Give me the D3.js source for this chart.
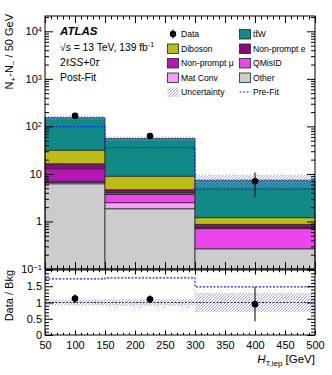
<!DOCTYPE html>
<html>
<head>
<meta charset="utf-8">
<script src="https://cdn.jsdelivr.net/npm/d3@7"></script>
<style>
  body { margin: 0; background: #fff; }
  svg { font-family: "Liberation Sans", Arial, sans-serif; }
</style>
</head>
<body>
<div id="chart"></div>
<script>
// bins in HT,lep [GeV]
const binEdges = [50, 150, 300, 500];

// stacked backgrounds (bottom -> top)
const other    = [6.2, 1.85, 0.266];
const matConv  = [0.45, 0.63, 0];
const qmisid   = [0.40, 1.22, 0.44];
const npMu     = [5.8, 0.38, 0.03];
const npE      = [3.5, 0.57, 0.135];
const diboson  = [15.3, 4.34, 0.33];
const ttW      = [120.7, 46.9, 6.2];

const dataVals = [168, 62.5, 7.0];
const dataErr  = [20, 7.5, 3.7];
const preFit   = [98.6, 35.6, 4.72];
const uncFrac  = [0.09, 0.1, 0.3];

// ratio panel
const ratioData   = [1.12, 1.10, 0.95];
const ratioErr    = [0.13, 0.12, 0.53];
const ratioPreFit = [1.73, 1.76, 1.48];
const ratioUnc    = [0.09, 0.1, 0.29];

const xTicks = [50, 100, 150, 200, 250, 300, 350, 400, 450, 500];
const yTicks = [0.1, 1, 10, 100, 1000, 10000];
const ratioTicks = [0, 0.5, 1, 1.5, 2];

const keys = ["other", "matConv", "qmisid", "npMu", "npE", "diboson", "ttW"];
const colors = {
  other: "#cccccc", matConv: "#fc9afc", qmisid: "#ee44ee", npMu: "#b716b7",
  npE: "#880c7e", diboson: "#bcbc16", ttW: "#0f8a87"
};

const rows = binEdges.slice(0, -1).map((lo, i) => ({
  lo: lo, hi: binEdges[i + 1],
  other: other[i], matConv: matConv[i], qmisid: qmisid[i], npMu: npMu[i],
  npE: npE[i], diboson: diboson[i], ttW: ttW[i]
}));
const stacked = d3.stack().keys(keys)(rows);
const totals = rows.map(r => keys.reduce((s, k) => s + r[k], 0));

const width = 332, height = 375;
const left = 45, right = 315;
const topY = 16, midY = 269, rTop = 270, rBot = 335;

const svg = d3.select("#chart").append("svg")
  .attr("width", width).attr("height", height);

const defs = svg.append("defs");
const pat = defs.append("pattern")
  .attr("id", "hatch").attr("patternUnits", "userSpaceOnUse")
  .attr("width", 3).attr("height", 3);
pat.append("path")
  .attr("d", "M-1,1 L1,-1 M0,3 L3,0 M2,4 L4,2")
  .attr("fill", "none")
  .attr("stroke", "#8a8aff").attr("stroke-width", 0.8);

const x = d3.scaleLinear().domain([50, 500]).range([left, right]);
const y = d3.scaleLog().domain([0.1, 21000]).range([midY, topY]);
const yr = d3.scaleLinear().domain([0, 2]).range([rBot, rTop]);

// ---- upper panel: stack
stacked.forEach(layer => {
  svg.append("g").selectAll("rect")
    .data(layer)
    .enter().append("rect")
    .attr("x", d => x(d.data.lo))
    .attr("width", d => x(d.data.hi) - x(d.data.lo))
    .attr("y", d => y(d[1]))
    .attr("height", d => y(Math.max(d[0], 0.1)) - y(d[1]))
    .attr("fill", colors[layer.key])
    .attr("stroke", "#2a2a2a")
    .attr("stroke-width", 0.8);
});

// uncertainty band
svg.append("g").selectAll("rect")
  .data(rows)
  .enter().append("rect")
  .attr("x", d => x(d.lo))
  .attr("width", d => x(d.hi) - x(d.lo))
  .attr("y", (d, i) => y(totals[i] * (1 + uncFrac[i])))
  .attr("height", (d, i) => y(totals[i] * (1 - uncFrac[i])) - y(totals[i] * (1 + uncFrac[i])))
  .attr("fill", "url(#hatch)");

// pre-fit step line
const stepPts = (vals) => rows.map((d, i) => [d.lo, vals[i]]).concat([[500, vals[vals.length - 1]]]);
svg.append("path")
  .datum(stepPts(preFit))
  .attr("d", d3.line().x(d => x(d[0])).y(d => y(d[1])).curve(d3.curveStepAfter))
  .attr("fill", "none").attr("stroke", "#2020ee").attr("stroke-width", 1.2)
  .attr("stroke-dasharray", "2,1.5");

// data
const centers = rows.map(d => (d.lo + d.hi) / 2);
svg.append("g").selectAll("line")
  .data(dataVals).enter().append("line")
  .attr("x1", (d, i) => x(centers[i])).attr("x2", (d, i) => x(centers[i]))
  .attr("y1", (d, i) => y(d - dataErr[i])).attr("y2", (d, i) => y(d + dataErr[i]))
  .attr("stroke", "#000").attr("stroke-width", 1);
svg.append("g").selectAll("circle")
  .data(dataVals).enter().append("circle")
  .attr("cx", (d, i) => x(centers[i])).attr("cy", d => y(d))
  .attr("r", 3.3).attr("fill", "#000");

// ---- ratio panel
svg.append("g").selectAll("rect")
  .data(rows)
  .enter().append("rect")
  .attr("x", d => x(d.lo))
  .attr("width", d => x(d.hi) - x(d.lo))
  .attr("y", (d, i) => yr(1 + ratioUnc[i]))
  .attr("height", (d, i) => yr(1 - ratioUnc[i]) - yr(1 + ratioUnc[i]))
  .attr("fill", "url(#hatch)");

svg.append("line")
  .attr("x1", x(50)).attr("x2", x(500))
  .attr("y1", yr(1)).attr("y2", yr(1))
  .attr("stroke", "#333").attr("stroke-width", 1).attr("stroke-dasharray", "2,1.5");

svg.append("path")
  .datum(stepPts(ratioPreFit))
  .attr("d", d3.line().x(d => x(d[0])).y(d => yr(d[1])).curve(d3.curveStepAfter))
  .attr("fill", "none").attr("stroke", "#2020ee").attr("stroke-width", 1.2)
  .attr("stroke-dasharray", "2,1.5");

svg.append("g").selectAll("line")
  .data(ratioData).enter().append("line")
  .attr("x1", (d, i) => x(centers[i])).attr("x2", (d, i) => x(centers[i]))
  .attr("y1", (d, i) => yr(d - ratioErr[i])).attr("y2", (d, i) => yr(d + ratioErr[i]))
  .attr("stroke", "#000").attr("stroke-width", 1);
svg.append("g").selectAll("circle")
  .data(ratioData).enter().append("circle")
  .attr("cx", (d, i) => x(centers[i])).attr("cy", d => yr(d))
  .attr("r", 3.3).attr("fill", "#000");

// ---- frames
svg.append("rect").attr("x", left).attr("y", topY)
  .attr("width", right - left).attr("height", midY - topY)
  .attr("fill", "none").attr("stroke", "#000").attr("stroke-width", 1);
svg.append("rect").attr("x", left).attr("y", rTop)
  .attr("width", right - left).attr("height", rBot - rTop)
  .attr("fill", "none").attr("stroke", "#000").attr("stroke-width", 1);

// ---- axes
const xMinor = d3.range(50, 501, 10).filter(v => v % 50 !== 0);
const logMinor = [];
[-1, 0, 1, 2, 3, 4].forEach(p => d3.range(2, 10).forEach(k => {
  const v = k * Math.pow(10, p);
  if (v <= 21000) logMinor.push(v);
}));
const rMinor = d3.range(0, 2.001, 0.1).filter(v => Math.abs(v * 2 - Math.round(v * 2)) > 1e-6);

function ticks(axis, tr) {
  const g = svg.append("g").attr("transform", tr).call(axis);
  g.select(".domain").remove();
  g.selectAll(".tick line").attr("stroke", "#000");
  return g;
}

// upper panel x ticks
ticks(d3.axisBottom(x).tickValues(xTicks).tickSize(-7).tickFormat(""), `translate(0,${midY})`);
ticks(d3.axisBottom(x).tickValues(xMinor).tickSize(-3.5).tickFormat(""), `translate(0,${midY})`);
ticks(d3.axisTop(x).tickValues(xTicks).tickSize(-7).tickFormat(""), `translate(0,${topY})`);
ticks(d3.axisTop(x).tickValues(xMinor).tickSize(-3.5).tickFormat(""), `translate(0,${topY})`);

// upper panel y
const yl = ticks(d3.axisLeft(y).tickValues(yTicks).tickSize(-8).tickPadding(3), `translate(${left},0)`);
ticks(d3.axisLeft(y).tickValues(logMinor).tickSize(-4).tickFormat(""), `translate(${left},0)`);
ticks(d3.axisRight(y).tickValues(yTicks).tickSize(-8).tickFormat(""), `translate(${right},0)`);
ticks(d3.axisRight(y).tickValues(logMinor).tickSize(-4).tickFormat(""), `translate(${right},0)`);
yl.selectAll(".tick text").attr("font-size", 11).attr("fill", "#000")
  .attr("font-family", "Liberation Sans, Arial, sans-serif")
  .each(function (d) {
    const t = d3.select(this).text("");
    const p = Math.round(Math.log10(d));
    if (p === 0 || p === 1) { t.text(String(d)); return; }
    t.append("tspan").text("10");
    t.append("tspan").attr("dy", "-0.45em").attr("font-size", 7.5).text(p < 0 ? "\u22121" : p);
  });

// ratio panel
const xb = ticks(d3.axisBottom(x).tickValues(xTicks).tickSize(-4.5).tickPadding(6), `translate(0,${rBot})`);
ticks(d3.axisBottom(x).tickValues(xMinor).tickSize(-2.2).tickFormat(""), `translate(0,${rBot})`);
ticks(d3.axisTop(x).tickValues(xTicks).tickSize(-4.5).tickFormat(""), `translate(0,${rTop})`);
ticks(d3.axisTop(x).tickValues(xMinor).tickSize(-2.2).tickFormat(""), `translate(0,${rTop})`);
xb.selectAll(".tick text").attr("font-size", 11).attr("fill", "#000")
  .attr("font-family", "Liberation Sans, Arial, sans-serif");

const yrl = ticks(d3.axisLeft(yr).tickValues(ratioTicks).tickSize(-8).tickPadding(3)
  .tickFormat(d => d === 2 ? "" : String(d)), `translate(${left},0)`);
ticks(d3.axisLeft(yr).tickValues(rMinor).tickSize(-4).tickFormat(""), `translate(${left},0)`);
ticks(d3.axisRight(yr).tickValues(ratioTicks).tickSize(-8).tickFormat(""), `translate(${right},0)`);
ticks(d3.axisRight(yr).tickValues(rMinor).tickSize(-4).tickFormat(""), `translate(${right},0)`);
yrl.selectAll(".tick text").attr("font-size", 11).attr("fill", "#000")
  .attr("font-family", "Liberation Sans, Arial, sans-serif");

// ---- axis titles
const yTitle = svg.append("text")
  .attr("transform", `translate(13,14) rotate(-90)`)
  .attr("text-anchor", "end").attr("font-size", 11);
yTitle.append("tspan").text("N");
yTitle.append("tspan").attr("dy", 3).attr("font-size", 8).text("+");
yTitle.append("tspan").attr("dy", -3).text("-N");
yTitle.append("tspan").attr("dy", 3).attr("font-size", 8).text("\u2212");
yTitle.append("tspan").attr("dy", -3).text(" / 50 GeV");

svg.append("text")
  .attr("transform", `translate(13,270) rotate(-90)`)
  .attr("text-anchor", "end").attr("font-size", 11)
  .text("Data / Bkg");

const xTitle = svg.append("text")
  .attr("x", right).attr("y", 363)
  .attr("text-anchor", "end").attr("font-size", 11.5);
xTitle.append("tspan").attr("font-style", "italic").text("H");
xTitle.append("tspan").attr("dy", 3).attr("font-size", 8).text("T,lep");
xTitle.append("tspan").attr("dy", -3).text(" [GeV]");

// ---- labels
svg.append("text").attr("x", 60).attr("y", 35)
  .attr("font-size", 11.5).attr("font-weight", "bold").attr("font-style", "italic")
  .text("ATLAS");
const lumi = svg.append("text").attr("x", 60).attr("y", 50.5).attr("font-size", 10.3);
lumi.append("tspan").text("\u221As = 13 TeV, 139 fb");
lumi.append("tspan").attr("dy", -4).attr("font-size", 7).text("-1");
const chan = svg.append("text").attr("x", 60).attr("y", 65.5).attr("font-size", 10.5);
chan.append("tspan").text("2\u2113");
chan.append("tspan").attr("font-style", "italic").text("SS");
chan.append("tspan").text("+0");
chan.append("tspan").attr("font-style", "italic").text("\u03C4");
svg.append("text").attr("x", 60).attr("y", 80.5).attr("font-size", 10.5).text("Post-Fit");

// ---- legend
const legendItems = [
  { label: "Data", type: "data", col: 0, row: 0 },
  { label: "tt\u0304W", type: "box", key: "ttW", col: 1, row: 0 },
  { label: "Diboson", type: "box", key: "diboson", col: 0, row: 1 },
  { label: "Non-prompt e", type: "box", key: "npE", col: 1, row: 1 },
  { label: "Non-prompt \u03BC", type: "box", key: "npMu", col: 0, row: 2 },
  { label: "QMisID", type: "box", key: "qmisid", col: 1, row: 2 },
  { label: "Mat Conv", type: "box", key: "matConv", col: 0, row: 3 },
  { label: "Other", type: "box", key: "other", col: 1, row: 3 },
  { label: "Uncertainty", type: "hatch", col: 0, row: 4 },
  { label: "Pre-Fit", type: "dash", col: 1, row: 4 }
];
const colX = [167, 239];
const rowY = r => 34 + r * 14.5;

const lg = svg.append("g").selectAll("g")
  .data(legendItems).enter().append("g")
  .attr("transform", d => `translate(${colX[d.col]},${rowY(d.row)})`);
lg.each(function (d) {
  const g = d3.select(this);
  if (d.type === "box") {
    g.append("rect").attr("x", 0.5).attr("y", -4.5).attr("width", 11).attr("height", 9.5)
      .attr("fill", colors[d.key]).attr("stroke", "#222").attr("stroke-width", 0.8);
  } else if (d.type === "hatch") {
    g.append("rect").attr("x", 0.5).attr("y", -4.5).attr("width", 11).attr("height", 9.5)
      .attr("fill", "url(#hatch)");
  } else if (d.type === "dash") {
    g.append("line").attr("x1", 0.5).attr("x2", 11.5).attr("y1", 0).attr("y2", 0)
      .attr("stroke", "#2020ee").attr("stroke-width", 1.2).attr("stroke-dasharray", "2,1.5");
  } else {
    g.append("line").attr("x1", 6).attr("x2", 6).attr("y1", -4.5).attr("y2", 4.5)
      .attr("stroke", "#000");
    g.append("circle").attr("cx", 6).attr("cy", 0).attr("r", 3.2).attr("fill", "#000");
  }
  g.append("text").attr("x", 14).attr("y", 3.3).attr("font-size", 8.6).text(d.label);
});
</script>
</body>
</html>
